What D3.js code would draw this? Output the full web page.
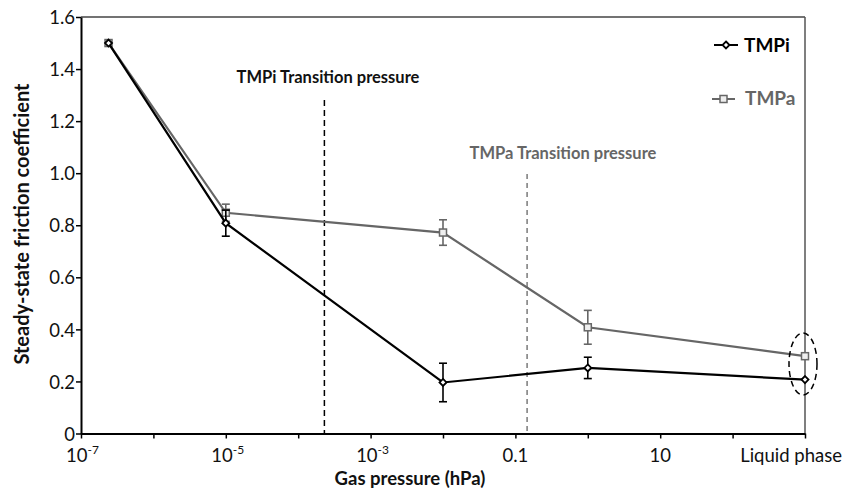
<!DOCTYPE html>
<html><head><meta charset="utf-8">
<script src="https://cdn.jsdelivr.net/npm/d3@7"></script>
<style>
html,body{margin:0;padding:0;background:#fff;}
text{font-family:Lato,"Open Sans",sans-serif;}
</style></head>
<body>
<svg id="c" width="846" height="490"></svg>
<script>
// ---- data ----
const pressures = [2.4e-7, 1e-5, 1e-2, 1, 1e3];      // last point = liquid phase
const tmpiValues = [1.50, 0.808, 0.196, 0.252, 0.207];
const tmpiErrors = [0, 0.05, 0.074, 0.041, 0];
const tmpaValues = [1.50, 0.848, 0.772, 0.408, 0.297];
const tmpaErrors = [0, 0.033, 0.049, 0.065, 0];
const xTickValues = [1e-7,1e-6,1e-5,1e-4,1e-3,1e-2,1e-1,1,10,100,1e3];
const xLabelValues = [1e-7, 1e-5, 1e-3, 0.1, 10, 1e3];
const xLabelTexts = [["10","-7"],["10","-5"],["10","-3"],["0.1",""],["10",""],["Liquid phase",""]];
const yTickValues = [0,0.2,0.4,0.6,0.8,1.0,1.2,1.4,1.6];
const yTickLabels = ["0","0.2","0.4","0.6","0.8","1.0","1.2","1.4","1.6"];
const transitions = [{name:"TMPi Transition pressure", p:2.3e-4}, {name:"TMPa Transition pressure", p:0.145}];

const svg = d3.select("#c");
const L=81, R=805, T=17, B=433.5;
const x = d3.scaleLog().domain([1e-7,1e3]).range([L,R]);
const y = d3.scaleLinear().domain([0,1.6]).range([B,T]);
const black="#000", gray="#666";

// frame (top and right)
svg.append("line").attr("x1",L).attr("x2",R).attr("y1",T).attr("y2",T).attr("stroke","#444").attr("stroke-width",1.5);
svg.append("line").attr("x1",R).attr("x2",R).attr("y1",T).attr("y2",B).attr("stroke","#555").attr("stroke-width",1.5);

// y axis
const ya = svg.append("g").attr("transform",`translate(${L},0)`)
  .call(d3.axisLeft(y).tickValues(yTickValues).tickFormat((d,i)=>yTickLabels[i]).tickSize(5).tickSizeOuter(0));
ya.select(".domain").attr("stroke",black).attr("stroke-width",2);
ya.selectAll(".tick line").attr("stroke",black).attr("stroke-width",1.5);
ya.selectAll(".tick text").attr("font-size",18.5).attr("fill","#111").attr("x",-6).attr("dy","0.36em")
  .style("font-family","Lato,sans-serif");

// x axis
const xa = svg.append("g").attr("transform",`translate(0,${B})`)
  .call(d3.axisBottom(x).tickValues(xTickValues).tickFormat("").tickSize(5).tickSizeOuter(0));
xa.select(".domain").attr("stroke",black).attr("stroke-width",2);
xa.selectAll(".tick line").attr("stroke",black).attr("stroke-width",1.5);

const xl = svg.append("g");
xLabelValues.forEach((v,i)=>{
  const t = xl.append("text").attr("y",B+28).attr("font-size",18.5).attr("fill","#111");
  const last = i===xLabelValues.length-1;
  if(i===0){ t.attr("x",x(v)-15).attr("text-anchor","start"); }
  else if(last){ t.attr("x",842).attr("text-anchor","end"); }
  else { t.attr("x",x(v)+(xLabelTexts[i][1]?2:0)).attr("text-anchor","middle"); }
  t.append("tspan").text(xLabelTexts[i][0]);
  if(xLabelTexts[i][1]) t.append("tspan").attr("font-size",12).attr("dy",-8).text(xLabelTexts[i][1]);
});

// axis titles
svg.append("text").attr("x",410).attr("y",485).attr("text-anchor","middle")
  .attr("font-size",18.5).attr("font-weight","bold").attr("fill","#111").text("Gas pressure (hPa)");
svg.append("text").attr("transform","translate(29,224) rotate(-90)").attr("text-anchor","middle")
  .attr("font-size",20).attr("font-weight","bold").attr("fill","#111").text("Steady-state friction coefficient");

// transition lines
svg.append("line").attr("x1",x(transitions[0].p)).attr("x2",x(transitions[0].p)).attr("y1",100).attr("y2",B)
  .attr("stroke",black).attr("stroke-width",1.5).attr("stroke-dasharray","6,4");
svg.append("text").attr("x",328).attr("y",83).attr("text-anchor","middle")
  .attr("font-size",16.5).attr("font-weight","bold").attr("fill","#111").text(transitions[0].name);
svg.append("line").attr("x1",x(transitions[1].p)).attr("x2",x(transitions[1].p)).attr("y1",174).attr("y2",B)
  .attr("stroke",gray).attr("stroke-width",1.3).attr("stroke-dasharray","5,4");
svg.append("text").attr("x",563).attr("y",159).attr("text-anchor","middle")
  .attr("font-size",16.5).attr("font-weight","bold").attr("fill",gray).text(transitions[1].name);

// series
function drawSeries(vals, errs, color, marker){
  const pts = pressures.map((p,i)=>({p, v:vals[i], e:errs[i]}));
  const g = svg.append("g");
  g.append("path").datum(pts).attr("fill","none").attr("stroke",color).attr("stroke-width",2.2)
    .attr("d", d3.line().x(d=>x(d.p)).y(d=>y(d.v)));
  pts.filter(d=>d.e>0).forEach(d=>{
    const cx=x(d.p);
    g.append("line").attr("x1",cx).attr("x2",cx).attr("y1",y(d.v+d.e)).attr("y2",y(d.v-d.e)).attr("stroke",color).attr("stroke-width",1.6);
    [d.v+d.e, d.v-d.e].forEach(yy=>g.append("line").attr("x1",cx-4).attr("x2",cx+4).attr("y1",y(yy)).attr("y2",y(yy)).attr("stroke",color).attr("stroke-width",1.6));
  });
  pts.forEach(d=>marker(g, x(d.p), y(d.v)));
}
const diamond=(g,cx,cy)=>g.append("path").attr("d",`M${cx},${cy-3.5}L${cx+3.5},${cy}L${cx},${cy+3.5}L${cx-3.5},${cy}Z`)
  .attr("fill","#fff").attr("stroke",black).attr("stroke-width",1.8);
const square=(g,cx,cy)=>g.append("rect").attr("x",cx-3.5).attr("y",cy-3.5).attr("width",7).attr("height",7)
  .attr("fill","#eee").attr("stroke",gray).attr("stroke-width",1.5);
drawSeries(tmpaValues, tmpaErrors, gray, square);
drawSeries(tmpiValues, tmpiErrors, black, diamond);

// ellipse around liquid phase
svg.append("ellipse").attr("cx",x(1e3)-2).attr("cy",364).attr("rx",14).attr("ry",31)
  .attr("fill","none").attr("stroke",black).attr("stroke-width",1.5).attr("stroke-dasharray","6,4");

// legend
const lg = svg.append("g");
lg.append("line").attr("x1",714).attr("x2",738).attr("y1",45).attr("y2",45).attr("stroke",black).attr("stroke-width",2);
diamond(lg,726,45);
lg.append("text").attr("x",744).attr("y",52).attr("font-size",19).attr("font-weight","bold").attr("fill","#000").text("TMPi");
lg.append("line").attr("x1",712).attr("x2",735).attr("y1",99).attr("y2",99).attr("stroke",gray).attr("stroke-width",2);
square(lg,723.5,99);
lg.append("text").attr("x",745).attr("y",105).attr("font-size",19).attr("font-weight","bold").attr("fill",gray).text("TMPa");
</script>
</body></html>
